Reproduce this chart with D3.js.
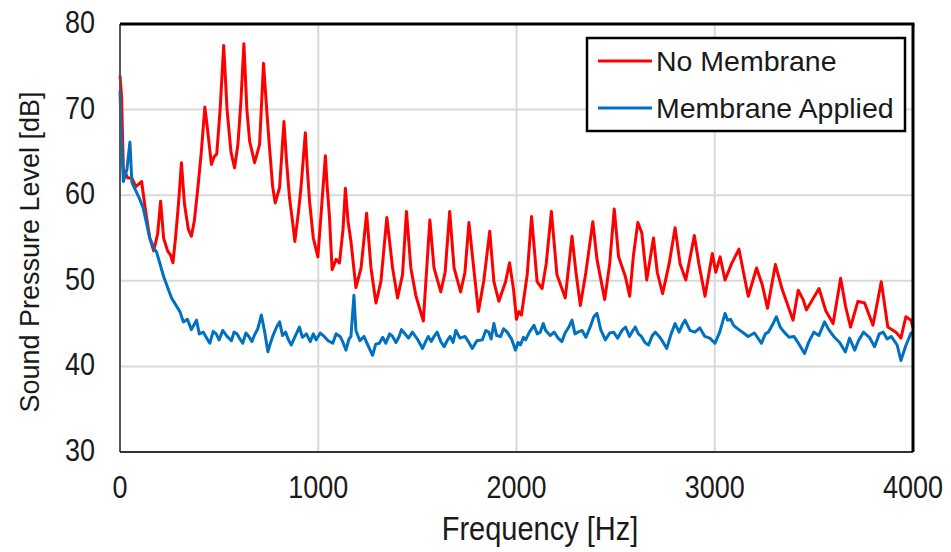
<!DOCTYPE html>
<html>
<head>
<meta charset="utf-8">
<script src="https://cdn.jsdelivr.net/npm/d3@7"></script>
<style>
  body { margin: 0; background: #fff; }
  text { font-family: Arial, "Liberation Sans", sans-serif; fill: #1a1a1a; }
</style>
</head>
<body>
<div id="chart"></div>
<script>
// Series: [frequency Hz, level dB]
const noMembrane = [
  [0,74],[8,71.5],[17,63],[40,62],[60,62],[80,61],[109,61.6],[130,58],[150,55],[170,53.5],[190,55.5],
  [205,59.3],[220,55],[240,53.5],[255,53],[267,52.1],[280,55],[295,59],[310,63.8],[325,59],[345,56],
  [360,55.2],[375,57],[393,60.9],[410,65],[428,70.3],[440,68],[461,63.6],[475,64.5],[488,64.8],[505,70],
  [523,77.5],[540,70],[560,65],[578,63.2],[595,66],[610,71],[625,77.7],[640,70],[654,66.3],[679,63.8],
  [704,65.9],[724,75.4],[740,70],[754,65.6],[770,61],[783,59.1],[805,60.9],[827,68.6],[840,64],[855,59.7],
  [870,57],[882,54.6],[900,58],[913,60.9],[935,67.3],[945,63],[956,59.3],[975,55],[998,52.8],[1014,57.7],
  [1036,64.6],[1045,61],[1056,57.7],[1070,51.3],[1090,52.5],[1107,52.1],[1125,56],[1137,60.8],[1150,57],
  [1165,54.6],[1190,49.2],[1216,51.5],[1244,57.9],[1266,51.5],[1291,47.4],[1316,49.9],[1346,57.4],
  [1375,51.5],[1400,48.0],[1425,50.7],[1445,58.1],[1467,51.5],[1492,48.3],[1530,45.3],[1563,57.1],
  [1584,51.5],[1618,48.7],[1640,51],[1663,58.1],[1685,51.5],[1718,48.7],[1740,51],[1760,56.8],[1786,51.1],
  [1808,46.4],[1835,50],[1865,55.8],[1886,49.9],[1911,47.6],[1945,49.9],[1965,52.1],[1985,49],[2000,45.5],
  [2012,46.4],[2025,46],[2054,50.7],[2076,57.5],[2104,49.9],[2129,49.1],[2150,52],[2176,58.1],[2204,50.7],
  [2246,48.0],[2280,55.2],[2300,51],[2322,47.1],[2350,51],[2385,56.9],[2406,52.5],[2445,47.8],[2470,52],
  [2493,58.4],[2515,52.8],[2549,50.5],[2571,48.2],[2590,53],[2612,56.8],[2632,55.6],[2657,50.1],[2691,55.0],
  [2710,51],[2737,48.5],[2770,52],[2800,56.2],[2825,52],[2854,50.1],[2897,55.3],[2920,52],[2951,48.2],
  [2988,53.2],[3005,51],[3027,52.8],[3052,50.1],[3085,52],[3122,53.7],[3145,51],[3169,48.2],[3211,51.5],
  [3240,49.5],[3266,46.8],[3306,51.9],[3340,49],[3395,45.4],[3421,48.9],[3446,47.8],[3462,46.6],[3526,49.1],
  [3560,46.5],[3597,45.0],[3635,50.3],[3660,47],[3685,44.6],[3722,47.6],[3756,47.4],[3798,44.8],[3840,49.9],
  [3873,44.6],[3914,44.0],[3939,43.3],[3964,45.8],[3990,45.4],[4000,44.5]
];
const membraneApplied = [
  [0,72.2],[8,66],[17,61.6],[35,63],[50,66.2],[60,61.5],[80,60.5],[100,59.5],[117,58.5],[150,55],[176,53.6],
  [184,53.4],[220,50.5],[260,48.0],[302,46.4],[320,45.2],[340,45.5],[360,44.3],[386,45.4],[400,43.8],[420,44],
  [440,43.2],[453,42.7],[470,44.1],[485,43.8],[500,43.1],[518,44.2],[540,43.5],[562,43.0],[575,44.0],
  [590,43.8],[605,43.2],[619,42.7],[635,43.9],[650,43.5],[665,42.9],[679,43.7],[695,44.4],[713,46.0],
  [730,44],[746,41.7],[760,42.8],[770,43.5],[790,44.6],[805,45.2],[820,43.6],[835,44],[850,43.1],[864,42.5],
  [885,43.6],[905,44.6],[920,43.4],[940,43.8],[960,42.9],[975,43.8],[989,43.1],[1010,43.9],[1030,43.5],
  [1050,43.0],[1073,42.7],[1090,43.8],[1110,43.5],[1125,42.8],[1140,41.9],[1155,43.2],[1165,43.5],
  [1180,48.3],[1190,44.2],[1210,43.0],[1230,43.5],[1250,42.5],[1274,41.3],[1290,42.6],[1308,42.7],
  [1325,43.4],[1341,42.7],[1360,43.8],[1375,43.5],[1392,42.8],[1408,43.5],[1420,44.3],[1434,43.9],
  [1455,43.3],[1475,44.0],[1500,43.2],[1526,42.1],[1540,42.8],[1555,43.5],[1570,42.9],[1584,43.5],
  [1600,44.0],[1618,42.9],[1635,42.3],[1650,43.0],[1665,43.5],[1680,42.8],[1694,44.2],[1715,43.3],
  [1740,43.5],[1760,42.8],[1777,42.1],[1800,43.0],[1828,43.1],[1845,44.2],[1860,44],[1872,43.2],
  [1886,45.0],[1900,43.6],[1920,43.5],[1935,44.4],[1953,44.0],[1975,43.2],[1995,41.9],[2008,42.8],
  [2020,42.5],[2035,43.4],[2046,43.1],[2065,44.0],[2088,44.8],[2105,43.8],[2120,44],[2135,45.0],
  [2147,44.2],[2170,43.6],[2190,44],[2210,43.3],[2229,42.9],[2245,43.9],[2264,44.6],[2280,45.4],
  [2295,43.8],[2310,44],[2331,44.2],[2350,43.4],[2370,44.5],[2390,45.8],[2406,46.2],[2425,44.3],
  [2448,43.1],[2470,43.9],[2490,44],[2510,43.3],[2532,44.2],[2550,44.6],[2570,43.5],[2585,44.1],
  [2599,44.6],[2615,43.8],[2630,43.5],[2648,42.8],[2666,42.5],[2685,43.6],[2700,44],[2720,43.5],
  [2740,42.8],[2758,42.1],[2780,43.8],[2800,45.0],[2820,44.0],[2835,44.8],[2850,45.4],[2875,44.2],
  [2900,44],[2925,44.5],[2950,43.5],[2975,43.3],[3001,42.7],[3025,44.0],[3052,46.2],[3065,45.4],
  [3080,45.5],[3095,44.8],[3110,44.5],[3140,44.0],[3169,43.5],[3200,43.9],[3236,42.7],[3255,43.8],
  [3270,44],[3290,44.8],[3311,45.8],[3330,44.6],[3350,44],[3375,43.4],[3400,43.5],[3425,42.6],
  [3453,41.5],[3475,42.9],[3500,44],[3525,43.6],[3554,45.2],[3575,44.3],[3600,43.5],[3630,42.8],
  [3659,41.7],[3680,43.3],[3706,41.9],[3725,43.0],[3750,44],[3780,43.4],[3806,42.3],[3830,43.8],
  [3850,44],[3870,43.2],[3890,43.5],[3920,42.5],[3939,40.7],[3965,42.5],[3990,43.9],[4000,44]
];
const xTicks = [0, 1000, 2000, 3000, 4000];
const yTicks = [30, 40, 50, 60, 70, 80];
const seriesNames = ["No Membrane", "Membrane Applied"];
const seriesColors = ["#ff0000", "#0070c0"];

const width = 951, height = 552;
const margin = {top: 24, right: 38, bottom: 100, left: 120};
const stretch = 1.15;  // glyphs in the reference are drawn a little taller than wide

const svg = d3.select("#chart")
              .append("svg")
              .attr("width", width)
              .attr("height", height);

const x = d3.scaleLinear().domain([0, 4000]).range([margin.left, width - margin.right]);
const y = d3.scaleLinear().domain([30, 80]).range([height - margin.bottom, margin.top]);

// gridlines
svg.append("g")
   .selectAll("line")
   .data(yTicks.slice(1, -1))
   .join("line")
   .attr("x1", x(0)).attr("x2", x(4000))
   .attr("y1", d => y(d)).attr("y2", d => y(d))
   .attr("stroke", "#d9d9d9").attr("stroke-width", 2);
svg.append("g")
   .selectAll("line")
   .data(xTicks.slice(1, -1))
   .join("line")
   .attr("x1", d => x(d)).attr("x2", d => x(d))
   .attr("y1", y(30)).attr("y2", y(80))
   .attr("stroke", "#d9d9d9").attr("stroke-width", 2);

// lines
const line = d3.line().x(d => x(d[0])).y(d => y(d[1]));
[noMembrane, membraneApplied].forEach((s, i) => {
    svg.append("path")
       .datum(s)
       .attr("fill", "none")
       .attr("stroke", seriesColors[i])
       .attr("stroke-width", 3)
       .attr("stroke-linejoin", "round")
       .attr("d", line);
});

// frame: dark left/bottom, black heavy top/right
svg.append("line").attr("x1", x(0)).attr("x2", x(0)).attr("y1", y(80)).attr("y2", y(30))
   .attr("stroke", "#555").attr("stroke-width", 2);
svg.append("line").attr("x1", x(0)).attr("x2", x(4000)).attr("y1", y(30)).attr("y2", y(30))
   .attr("stroke", "#333").attr("stroke-width", 2);
svg.append("line").attr("x1", x(0)).attr("x2", x(4000) + 1.5).attr("y1", y(80)).attr("y2", y(80))
   .attr("stroke", "#000").attr("stroke-width", 3);
svg.append("line").attr("x1", x(4000)).attr("x2", x(4000)).attr("y1", y(80)).attr("y2", y(30))
   .attr("stroke", "#000").attr("stroke-width", 3);

// tick labels
svg.append("g")
   .selectAll("text")
   .data(yTicks)
   .join("text")
   .attr("transform", d => `translate(${x(0) - 25},${y(d) + 9}) scale(1,${stretch})`)
   .attr("text-anchor", "end")
   .attr("font-size", 27)
   .text(d => d);
svg.append("g")
   .selectAll("text")
   .data(xTicks)
   .join("text")
   .attr("transform", d => `translate(${x(d)},${y(30) + 46}) scale(1,${stretch})`)
   .attr("text-anchor", "middle")
   .attr("font-size", 27)
   .text(d => d);

// axis titles
svg.append("text")
   .attr("transform", `translate(540,540) scale(1,${stretch})`)
   .attr("text-anchor", "middle")
   .attr("font-size", 29)
   .text("Frequency [Hz]");
svg.append("text")
   .attr("transform", "translate(39,252) rotate(-90)")
   .attr("text-anchor", "middle")
   .attr("font-size", 27)
   .text("Sound  Pressure Level [dB]");

// legend
const legend = svg.append("g").attr("transform", "translate(587,38)");
legend.append("rect")
      .attr("width", 318).attr("height", 93)
      .attr("fill", "#fff").attr("stroke", "#000").attr("stroke-width", 2.5);
seriesNames.forEach((name, i) => {
    const ly = 23 + i * 47;
    legend.append("line")
          .attr("x1", 11).attr("x2", 65).attr("y1", ly).attr("y2", ly)
          .attr("stroke", seriesColors[i]).attr("stroke-width", 3);
    legend.append("text")
          .attr("x", 69).attr("y", ly)
          .attr("dy", "0.35em")
          .attr("font-size", 28.5)
          .text(name);
});
</script>
</body>
</html>
